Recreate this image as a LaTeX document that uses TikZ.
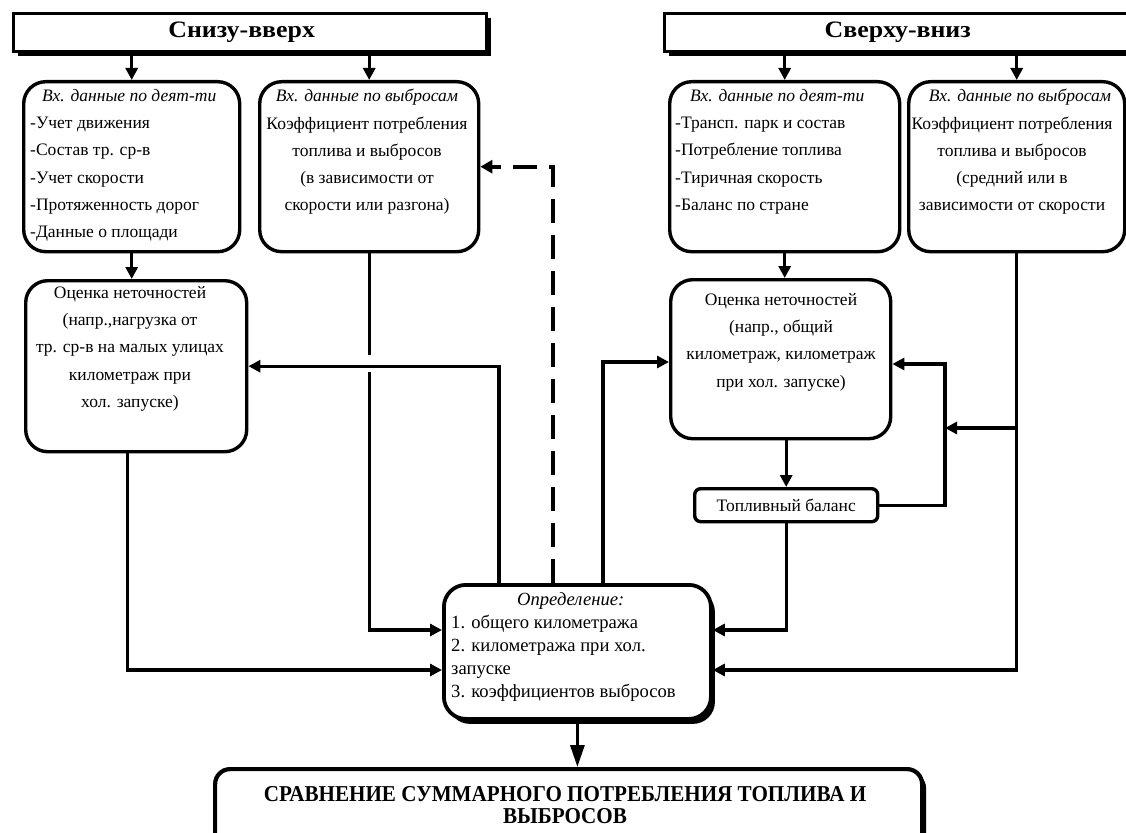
\documentclass[tikz,border=0pt]{standalone}
\usepackage{fontspec}
\setmainfont{Liberation Serif}
\newfontfamily\hdrfont{Liberation Serif}[FakeStretch=1.1]
\newfontfamily\botfont{Liberation Serif}[FakeStretch=0.93]
\usetikzlibrary{arrows.meta,shadows}
\begin{document}
\begin{tikzpicture}[x=1pt,y=-1pt,
  box/.style={draw, line width=3.4pt, rounded corners=22pt, inner sep=0pt, anchor=north west},
  conn/.style={line width=3.1pt},
  arr/.style={conn, -{Triangle[length=12pt,width=12pt]}},
  dasharr/.style={line width=4pt, dash pattern=on 24pt off 12pt, -{Triangle[length=12pt,width=13pt]}},
  body/.style={inner sep=0pt, font=\fontsize{17.5}{27.3}\selectfont},
  defn/.style={inner sep=0pt, font=\fontsize{18.6}{23}\selectfont},
  blk/.style={drop shadow={shadow xshift=4pt, shadow yshift=-4pt, fill=black, opacity=1}},
  hdr/.style={draw, line width=3.4pt, inner sep=0pt, anchor=north west, fill=white, blk,
    font=\hdrfont\bfseries\fontsize{23.5}{24}\selectfont},
]
\useasboundingbox (0,0) rectangle (1126,832);
\clip (0,0) rectangle (1126,832);

% headers
\node[hdr, minimum width=473pt, minimum height=38pt] (hL) at (12,12) {Снизу-вверх\hspace*{17pt}};
\node[hdr, minimum width=480pt, minimum height=38pt] (hR) at (663,12) {Сверху-вниз\hspace*{14pt}};

% boxes
\node[box, minimum width=216pt, minimum height=170pt] (b1) at (22,80) {};
\node[box, minimum width=219pt, minimum height=170pt] (b2) at (258,80) {};
\node[box, minimum width=230pt, minimum height=170pt] (b3) at (668,80) {};
\node[box, minimum width=216pt, minimum height=170pt] (b4) at (907,80) {};
\node[box, minimum width=221pt, minimum height=171pt] (b5) at (24,279) {};
\node[box, minimum width=220pt, minimum height=159pt] (b6) at (669,278) {};
\node[box, rounded corners=6pt, minimum width=183pt, minimum height=33pt, body] (b7) at (693,487) {Топливный баланс};
\node[box, line width=3.8pt, fill=white, drop shadow={shadow xshift=4pt, shadow yshift=-5pt, fill=black, opacity=1},
  minimum width=267pt, minimum height=134pt] (b8) at (442,583) {};
\node[box, line width=4.2pt, rounded corners=15pt, fill=white, blk,
  minimum width=707pt, minimum height=100pt] (b9) at (213,767) {};

% texts
\node[body, anchor=north west, align=left] (t1) at (30,89)
  {\hspace*{12pt}\textit{Вх. данные по деят-ти}\\-Учет движения\\-Состав тр. ср-в\\-Учет скорости\\-Протяженность дорог\\-Данные о площади};
\node[body, anchor=north, align=center] (t2) at (367,89)
  {\textit{Вх. данные по выбросам}\\Коэффициент потребления\\топлива и выбросов\\(в зависимости от\\скорости или разгона)};
\node[body, anchor=north west, align=left] (t3) at (675,89)
  {\hspace*{15pt}\textit{Вх. данные по деят-ти}\\-Трансп. парк и состав\\-Потребление топлива\\-Тиричная скорость\\-Баланс по стране};
\node[body, anchor=north, align=center] (t4) at (1012,89)
  {\hspace*{16pt}\textit{Вх. данные по выбросам}\\Коэффициент потребления\\топлива и выбросов\hspace*{60pt}\\(средний или в\\зависимости от скорости};
\node[body, anchor=north, align=center] (t5) at (130,286)
  {Оценка неточностей\\(напр.,нагрузка от\\тр. ср-в на малых улицах\\километраж при\\хол. запуске)};
\node[body, anchor=north, align=center] (t6) at (781,293)
  {Оценка неточностей\\(напр., общий\\километраж, километраж\\при хол. запуске)};
\node[defn, anchor=north west, align=left] (t8) at (451,592)
  {\hspace*{66pt}\textit{Определение:}\\1. общего километража\\2. километража при хол.\\запуске\\3. коэффициентов выбросов};
\node[inner sep=0pt, align=center, font=\botfont\bfseries\fontsize{22.7}{22}\selectfont] (t9) at (565,805)
  {СРАВНЕНИЕ СУММАРНОГО ПОТРЕБЛЕНИЯ ТОПЛИВА И\\ВЫБРОСОВ};

% helper coordinates
\coordinate (gT) at (0,355);
\coordinate (gB) at (0,372);
\coordinate (r1) at (0,630);
\coordinate (r2) at (0,670);
\coordinate (cA) at (499,0);
\coordinate (cD) at (553,0);
\coordinate (cC) at (603,0);
\coordinate (y362) at (0,362);
\coordinate (y364) at (0,364);
\coordinate (y428) at (0,428);
\coordinate (lp) at (945,0);

% connectors
\draw[arr] (hL.south -| b1.north) -- (b1.north);
\draw[arr] (hL.south -| b2.north) -- (b2.north);
\draw[arr] (hR.south -| b3.north) -- (b3.north);
\draw[arr] (hR.south -| b4.north) -- (b4.north);
\draw[arr] (b1.south) -- (b1.south |- b5.north);
\draw[conn] (b2.south) -- (b2.south |- gT);
\draw[arr] (b2.south |- gB) |- (b8.west |- r1);
\draw[arr] ([xshift=-9pt]b5.south) |- (b8.west |- r2);
\draw[arr] (b8.north -| cA) |- (b5.east);
\draw[dasharr] (b8.north -| cD) |- (b2.east);
\draw[arr] (b8.north -| cC) |- (b6.west |- y362);
\draw[arr] (b3.south) -- (b3.south |- b6.north);
\draw[arr] (b7.north |- b6.south) -- (b7.north);
\draw[arr] (b7.south) |- (b8.east |- r1);
\draw[arr] (b4.south) |- (b8.east |- r2);
\draw[arr] (b4.south |- y428) -- (lp |- y428);
\draw[arr] (b7.east) -| (lp |- y364) -- (b6.east |- y364);
\draw[conn, -{Triangle[length=22pt,width=14pt]}] (b8.south) -- (b8.south |- b9.north);
\end{tikzpicture}
\end{document}
